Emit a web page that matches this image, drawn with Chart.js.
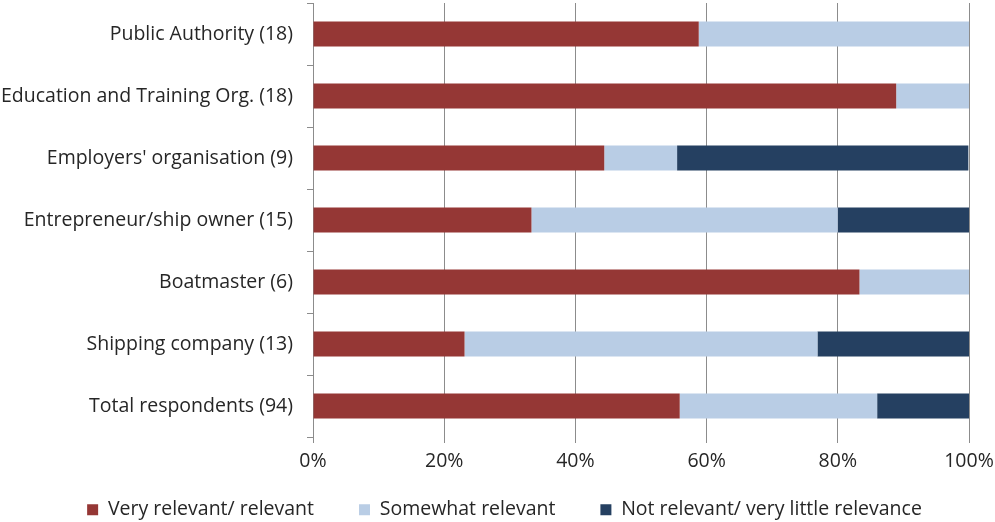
<!DOCTYPE html>
<html>
<head>
<meta charset="utf-8">
<script src="https://cdn.jsdelivr.net/npm/chart.js@4"></script>
<style>
  html, body { margin: 0; padding: 0; background: #fff; }
  #wrap { width: 995px; height: 522px; }
</style>
</head>
<body>
<div id="wrap"><canvas id="chartRelevance"></canvas></div>
<script>
const COLORS = {
    red:   '#953735',
    light: '#b9cde5',
    dark:  '#254061',
    grid:  '#8c8c8c',
    text:  '#262626',
};

const categories = [
    'Public Authority (18)',
    'Education and Training Org. (18)',
    "Employers' organisation (9)",
    'Entrepreneur/ship owner (15)',
    'Boatmaster (6)',
    'Shipping company (13)',
    'Total respondents (94)',
];

// shares in percent per group
const veryRelevant     = [58.8, 88.9, 44.4, 33.3, 83.3, 23.1, 55.9];
const somewhatRelevant = [41.2, 11.1, 11.1, 46.7, 16.7, 53.8, 30.1];
const notRelevant      = [0,    0,    44.4, 20.0, 0,    23.1, 14.0];

const seriesLabels = [
    'Very relevant/ relevant',
    'Somewhat relevant',
    'Not relevant/ very little relevance',
];

const xTicks = [0, 20, 40, 60, 80, 100];

const FONT_SIZE = 19.5;
const LEGEND_GAP = 45;     // horizontal gap between legend items
const LEGEND_TOP_PAD = 25; // wanted space above legend row
const LEGEND_NUDGE_X = 20;

Chart.defaults.font.family = "'Open Sans', sans-serif";
Chart.defaults.color = COLORS.text;

// legend padding is used both between items and above the row;
// grow the legend box upward so the wide item gap doesn't push the row down
const legendNudge = {
    id: 'legendNudge',
    afterLayout(chart) {
        const lg = chart.legend;
        if (!lg) return;
        lg.top -= LEGEND_GAP - LEGEND_TOP_PAD;
        lg.height = lg.bottom - lg.top;
        lg.left += LEGEND_NUDGE_X;
        lg.right += LEGEND_NUDGE_X;
    },
};

const bar = (label, data, color) => ({
    label,
    data,
    backgroundColor: color,
    borderWidth: 0,
    barPercentage: 0.4,
    categoryPercentage: 1.0,
});

new Chart(document.getElementById('chartRelevance'), {
    type: 'bar',
    data: {
        labels: categories,
        datasets: [
            bar(seriesLabels[0], veryRelevant, COLORS.red),
            bar(seriesLabels[1], somewhatRelevant, COLORS.light),
            bar(seriesLabels[2], notRelevant, COLORS.dark),
        ],
    },
    plugins: [legendNudge],
    options: {
        indexAxis: 'y',
        responsive: true,
        maintainAspectRatio: false,
        animation: false,
        layout: { padding: { top: 3, right: 26, left: 0, bottom: 0 } },
        plugins: {
            tooltip: { enabled: false },
            legend: {
                position: 'bottom',
                maxHeight: 47,
                labels: {
                    boxWidth: 11,
                    boxHeight: 11,
                    padding: LEGEND_GAP,
                    font: { size: FONT_SIZE },
                    color: COLORS.text,
                },
            },
        },
        scales: {
            x: {
                stacked: true,
                min: 0,
                max: 100,
                afterBuildTicks: (axis) => { axis.ticks = xTicks.map(v => ({ value: v })); },
                border: { display: false },
                grid: { color: COLORS.grid, lineWidth: 1, tickLength: 6 },
                ticks: {
                    callback: v => v + '%',
                    font: { size: FONT_SIZE },
                    padding: 7,
                    color: COLORS.text,
                },
                afterFit: (axis) => {
                    axis.height = 38;
                    axis.paddingLeft = 0;
                    axis.paddingRight = 0;
                },
            },
            y: {
                stacked: true,
                border: { display: true, color: COLORS.grid },
                grid: {
                    offset: true,
                    drawOnChartArea: false,
                    color: COLORS.grid,
                    tickLength: 6,
                },
                ticks: {
                    font: { size: FONT_SIZE },
                    padding: 14,
                    color: COLORS.text,
                },
                afterFit: (axis) => {
                    axis.width = 313;
                    axis.paddingTop = 0;
                    axis.paddingBottom = 0;
                },
            },
        },
    },
});
</script>
</body>
</html>
